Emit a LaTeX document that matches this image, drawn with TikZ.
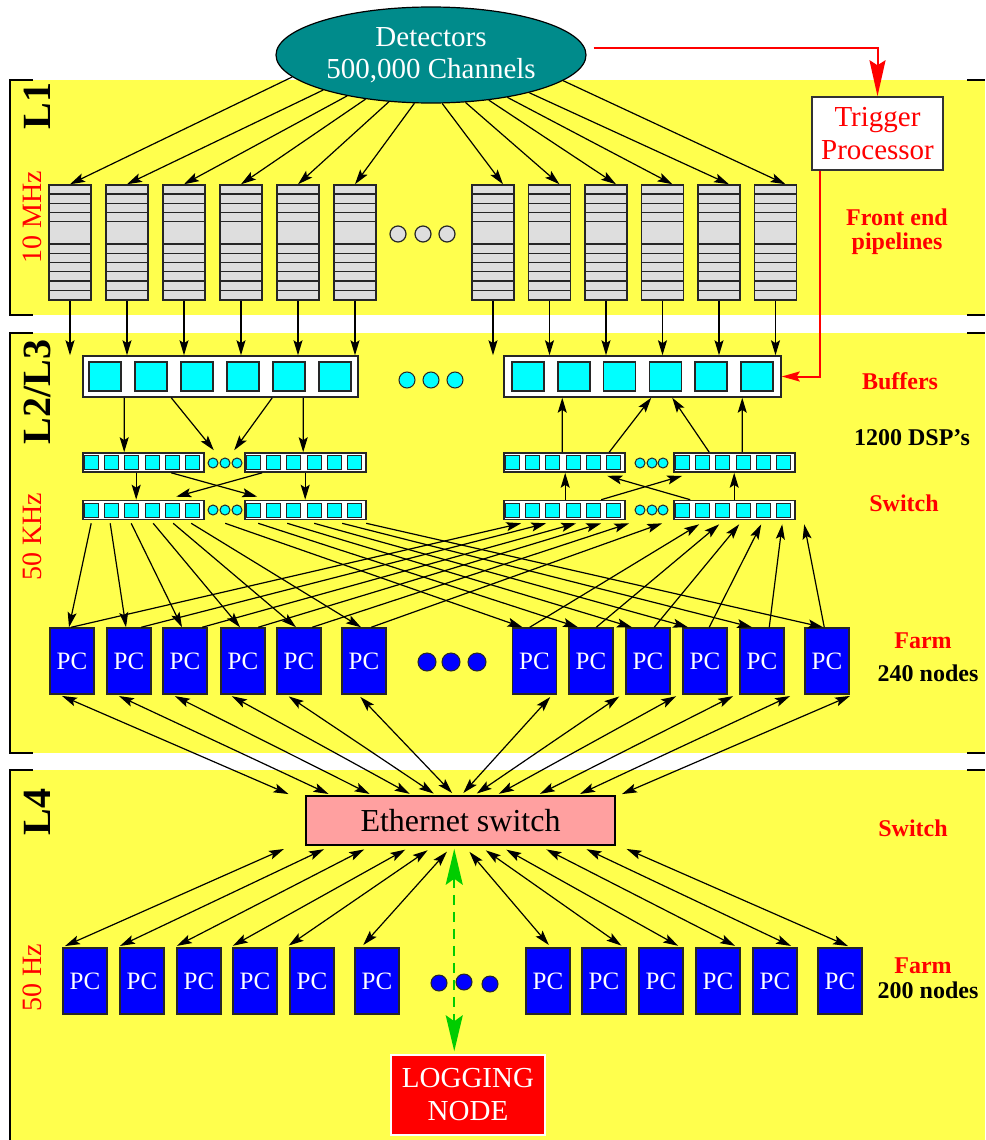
\documentclass[tikz,border=0pt]{standalone}
\usepackage{fontspec}
\setmainfont{Liberation Serif}
\usetikzlibrary{arrows.meta,calc,shapes.geometric}

\definecolor{bandyellow}{RGB}{255,255,77}
\definecolor{detteal}{RGB}{0,139,139}
\definecolor{pipegray}{RGB}{222,222,222}
\definecolor{cellcyan}{RGB}{0,255,255}
\definecolor{pcblue}{RGB}{0,0,255}
\definecolor{switchpink}{RGB}{255,160,160}
\definecolor{logred}{RGB}{255,0,0}
\definecolor{arrowgreen}{RGB}{0,205,0}

\begin{document}
\begin{tikzpicture}[x=1pt, y=-1pt,
    % connectors
    arr/.style={-{Stealth[length=15pt,width=9pt,inset=3pt]}, line width=1.2pt},
    darr/.style={{Stealth[length=15pt,width=9pt,inset=3pt]}-{Stealth[length=15pt,width=9pt,inset=3pt]}, line width=1.2pt, shorten <=3pt, shorten >=3pt},
    trigline/.style={-{Stealth[length=36pt,width=16pt,inset=5pt]}, red, line width=2pt},
    buftrig/.style={-{Stealth[length=18pt,width=10pt,inset=3pt]}, red, line width=2pt},
    logline/.style={{Stealth[length=36pt,width=17pt,inset=6pt]}-{Stealth[length=36pt,width=17pt,inset=6pt]}, arrowgreen, line width=2.2pt, dash pattern=on 10pt off 7pt, shorten <=3pt, shorten >=3pt},
    % boxes
    detector/.style={ellipse, draw=black, line width=1.2pt, fill=detteal, text=white, minimum width=310pt, minimum height=96pt, inner sep=0pt, align=center, font=\fontsize{29}{32}\selectfont},
    trigbox/.style={draw=black!80, line width=1.5pt, fill=white, text=red, minimum width=131pt, minimum height=73pt, inner sep=0pt, align=center, font=\fontsize{29}{33}\selectfont},
    pipe/.style={draw=black!85, line width=1.5pt, fill=pipegray, minimum width=42pt, minimum height=115pt, inner sep=0pt},
    bufbox/.style={draw=black!85, line width=1.5pt, fill=white, minimum height=41pt, inner sep=0pt},
    bufcell/.style={draw=black!85, line width=1.5pt, fill=cellcyan, minimum width=32pt, minimum height=29pt, inner sep=0pt},
    dspbox/.style={draw=black!85, line width=1.6pt, fill=white, minimum width=121pt, minimum height=19pt, inner sep=0pt},
    dspcell/.style={draw=black!85, line width=1pt, fill=cellcyan, minimum size=14pt, inner sep=0pt},
    pcbox/.style={draw=black!85, line width=1.5pt, fill=pcblue, text=white, minimum width=44pt, minimum height=66pt, inner sep=0pt, font=\fontsize{25}{28}\selectfont},
    ethbox/.style={draw=black, line width=1.5pt, fill=switchpink, minimum width=309pt, minimum height=49pt, inner sep=0pt, font=\fontsize{32}{36}\selectfont},
    logbox/.style={draw=white, line width=1.5pt, fill=logred, text=white, minimum width=154pt, minimum height=80pt, inner sep=0pt, align=center, font=\fontsize{29}{33}\selectfont},
    % balls
    grayball/.style={draw=black!85, line width=1.2pt, fill=pipegray},
    cyanball/.style={draw=black!85, line width=1pt, fill=cellcyan},
    blueball/.style={draw=black!85, line width=1pt, fill=pcblue},
    % labels
    level/.style={rotate=90, font=\fontsize{40}{44}\selectfont\bfseries},
    rate/.style={rotate=90, text=red, font=\fontsize{28}{30}\selectfont},
    tag/.style={text=red, align=center, font=\fontsize{24}{24}\selectfont\bfseries},
    count/.style={font=\fontsize{24}{24}\selectfont\bfseries}]

    \useasboundingbox (0,0) rectangle (985,1140);

    % Level bands
    \fill[bandyellow] (11,80) rectangle (985,315);
    \fill[bandyellow] (11,333) rectangle (985,753);
    \fill[bandyellow] (11,770) rectangle (985,1140);
    \draw[line width=1.2pt] (33,80) -- (10,80) -- (10,315) -- (33,315);
    \draw[line width=1.2pt] (33,333) -- (10,333) -- (10,753) -- (33,753);
    \draw[line width=1.2pt] (33,770) -- (10,770) -- (10,1140);
    \foreach \y in {80,315,333,753,770}
        \draw[line width=1.2pt] (967,\y) -- (985,\y);

    % Level names and rates
    \node[level] (lone) at (37,106) {L1};
    \node[level] (ltwo) at (37,392) {L2/L3};
    \node[level] (lfour) at (37,812) {L4};
    \node[rate] (rone) at (32,217) {10 MHz};
    \node[rate] (rtwo) at (32,537) {50 KHz};
    \node[rate] (rfour) at (32,978) {50 Hz};

    % Detectors and trigger
    \node[detector] (det) at (431,55) {Detectors\\500,000 Channels};
    \node[trigbox] (trig) at (877.5,133.5) {Trigger\\Processor};

    % Front end pipelines
    \foreach \i/\x in {1/70,2/127,3/184,4/241,5/298,6/355}
        \node[pipe] (pl\i) at (\x,242.5) {};
    \foreach \i/\x in {1/493,2/549.5,3/606,4/662.5,5/719,6/775.5}
        \node[pipe] (pr\i) at (\x,242.5) {};
    \foreach \p in {pl1,pl2,pl3,pl4,pl5,pl6,pr1,pr2,pr3,pr4,pr5,pr6}
        \foreach \d/\w in {10/1.8,19/1,28/1,37/1,60/1.8,69/1,78/1,87/1,97/1.8,106/1}
            \draw[black!85, line width=\w pt] ($(\p.north west)+(0,\d)$) -- ($(\p.north east)+(0,\d)$);
    \foreach \x in {398,423,447}
        \filldraw[grayball] (\x,234) circle (8pt);

    % Buffers
    \node[bufbox, minimum width=275pt] (bufL) at (220.5,376.5) {};
    \node[bufbox, minimum width=277pt] (bufR) at (642.5,376.5) {};
    \foreach \k in {0,...,5} {
        \node[bufcell] (bl\k) at (105+46*\k,376.5) {};
        \node[bufcell] (br\k) at (528+45.8*\k,376.5) {};
    }
    \foreach \x in {407,431,455}
        \filldraw[cyanball] (\x,380) circle (8pt);

    % DSP switch rows
    \node[dspbox] (dspA1) at (143.5,462.5) {};
    \node[dspbox] (dspB1) at (305.5,462.5) {};
    \node[dspbox] (dspC1) at (564.5,462.5) {};
    \node[dspbox] (dspD1) at (734.5,462.5) {};
    \node[dspbox] (dspA2) at (143.5,510) {};
    \node[dspbox] (dspB2) at (305.5,510) {};
    \node[dspbox] (dspC2) at (564.5,510) {};
    \node[dspbox] (dspD2) at (734.5,510) {};
    \foreach \s in {dspA1,dspB1,dspC1,dspD1,dspA2,dspB2,dspC2,dspD2}
        \foreach \k in {0,...,5}
            \node[dspcell] (\s c\k) at ($(\s.west)+(9+20.3*\k,0)$) {};
    \foreach \x in {213,225,237,640,652,663} {
        \filldraw[cyanball] (\x,463) circle (5pt);
        \filldraw[cyanball] (\x,510) circle (5pt);
    }

    % L2/L3 farm
    \foreach \i/\x in {1/72,2/129,3/185,4/243,5/299,6/364}
        \node[pcbox] (pcL\i) at (\x,661) {PC};
    \foreach \i/\x in {1/534.5,2/591,3/648,4/705,5/762,6/827}
        \node[pcbox] (pcR\i) at (\x,661) {PC};
    \foreach \x in {427,451,477}
        \filldraw[blueball] (\x,662) circle (9pt);

    % L4 switch, farm and logging
    \node[ethbox] (esw) at (460.5,820.5) {Ethernet switch};
    \foreach \i/\x in {1/85,2/142,3/199,4/255,5/312,6/377}
        \node[pcbox] (fpL\i) at (\x,981) {PC};
    \foreach \i/\x in {1/548,2/604,3/661,4/718,5/775,6/840}
        \node[pcbox] (fpR\i) at (\x,981) {PC};
    \foreach \x/\y in {439/983,464/982,490/984}
        \filldraw[blueball] (\x,\y) circle (8pt);
    \node[logbox] (log) at (468,1095) {LOGGING\\NODE};

    % Detectors to pipelines
    \foreach \a/\t in {189/pl1,198/pl2,206/pl3,214/pl4,228.5/pl5,251.5/pl6}
        \draw[arr] (det.\a) -- (\t.north);
    \foreach \a/\t in {283/pr1,306/pr2,322/pr3,331.6/pr4,339.6/pr5,349.2/pr6}
        \draw[arr] (det.\a) -- ($(\t.north)+(10,0)$);

    % Trigger path
    \draw[trigline] ($(det.east)+(7,-7)$) -| (trig.north);
    \draw[buftrig] ($(trig.south west)+(9,0)$) |- (bufR.east);

    % Pipelines to buffers
    \foreach \p in {pl1,pl2,pl3,pl4,pl5,pl6}
        \draw[arr] (\p.south) -- (\p.south |- bufL.north);
    \foreach \p in {pr1,pr2,pr3,pr4,pr5,pr6}
        \draw[arr] (\p.south) -- (\p.south |- bufR.north);

    % Buffers and DSPs
    \draw[arr] ($(bufL.south west)+(42,0)$) -- ($(dspA1.north west)+(42,0)$);
    \draw[arr] ($(bufL.south west)+(89,0)$) -- ($(dspA1.north east)+(9,-2)$);
    \draw[arr] ($(bufL.south west)+(190,0)$) -- ($(dspB1.north west)+(-10,-2)$);
    \draw[arr] ($(bufL.south west)+(221,0)$) -- ($(dspB1.north west)+(59,0)$);
    \draw[arr] ($(dspA1.south west)+(54,0)$) -- ($(dspA2.north west)+(54,0)$);
    \draw[arr] ($(dspA1.south west)+(89,0)$) -- ($(dspB2.north west)+(13,-3)$);
    \draw[arr] ($(dspB1.south west)+(18,0)$) -- ($(dspA2.north west)+(94,-3)$);
    \draw[arr] ($(dspB1.south west)+(61,0)$) -- ($(dspB2.north west)+(61,0)$);
    \draw[arr] ($(dspC1.north west)+(59,0)$) -- ($(bufR.south west)+(59,0)$);
    \draw[arr] ($(dspC1.north west)+(106,0)$) -- ($(bufR.south west)+(148,0)$);
    \draw[arr] ($(dspD1.north west)+(36,0)$) -- ($(bufR.south west)+(169,0)$);
    \draw[arr] ($(dspD1.north west)+(69,0)$) -- ($(bufR.south west)+(239,0)$);
    \draw[arr] ($(dspC2.north west)+(62,0)$) -- ($(dspC1.south west)+(62,0)$);
    \draw[arr] ($(dspC2.north west)+(98,0)$) -- ($(dspD1.south west)+(9,3)$);
    \draw[arr] ($(dspD2.north west)+(17,0)$) -- ($(dspC1.south west)+(104,3)$);
    \draw[arr] ($(dspD2.north west)+(61,0)$) -- ($(dspD1.south west)+(61,0)$);

    % Switch to farm and back
    \foreach \i/\o in {1/9,2/28,3/49,4/71,5/91,6/109}
        \draw[arr] ($(dspA2.south west)+(\o,3)$) -- ($(pcL\i.north)+(-3,0)$);
    \foreach \i/\o/\t in {1/-19/-12,2/14/-13,3/43/-16,4/70/-17,5/98/-10,6/122/-4}
        \draw[arr] ($(dspB2.south west)+(\o,3)$) -- ($(pcR\i.north)+(\t,0)$);
    \foreach \i/\o/\t in {1/22/18,2/35/43,3/40/73,4/38/98,5/36/126,6/30/159}
        \draw[arr] ($(pcL\i.north west)+(\o,0)$) -- ($(dspC2.south west)+(\t,3)$);
    \foreach \i/\o/\t in {1/18/26,2/28/46,3/29/66,4/27/88,5/30/109,6/20/131}
        \draw[arr] ($(pcR\i.north west)+(\o,0)$) -- ($(dspD2.south west)+(\t,4)$);

    % Farm to Ethernet switch
    \foreach \i/\o/\t in {1/10/-14,2/10/26,3/10/67,4/9/107,5/10/131,6/17/149}
        \draw[darr] ($(pcL\i.south west)+(\o,0)$) -- ($(esw.north west)+(\t,0)$);
    \foreach \i/\o/\t in {1/-5/156,2/8/169,3/8/191,4/8/232,5/8/272,6/3/314}
        \draw[darr] ($(pcR\i.south east)+(\o,0)$) -- ($(esw.north west)+(\t,0)$);

    % Ethernet switch to L4 farm
    \foreach \i/\o/\t in {1/-14/0,2/26/-2,3/66/-2,4/107/-2,5/129/-3,6/147/7}
        \draw[darr, shorten <=8pt] ($(esw.south west)+(\o,0)$) -- ($(fpL\i.north west)+(\t,0)$);
    \foreach \i/\o/\t in {1/159/-20,2/174/-3,3/194/-3,4/234/-3,5/274/-4,6/314/-12}
        \draw[darr, shorten <=8pt] ($(esw.south west)+(\o,0)$) -- ($(fpR\i.north east)+(\t,0)$);
    \draw[logline] ($(esw.south west)+(149,0)$) -- ($(log.north west)+(64,0)$);

    % Stage labels
    \node[tag] (tfront) at (897,232) {Front end\\pipelines};
    \node[tag] (tbuf) at (900,381) {Buffers};
    \node[count] (cdsp) at (912,438) {1200 DSP’s};
    \node[tag] (tsw) at (904,503) {Switch};
    \node[tag] (tfarm) at (923,641) {Farm};
    \node[count] (cfarm) at (928,673) {240 nodes};
    \node[tag] (tesw) at (913,828) {Switch};
    \node[tag] (tfarmb) at (923,966) {Farm};
    \node[count] (cfarmb) at (928,990) {200 nodes};
\end{tikzpicture}
\end{document}
